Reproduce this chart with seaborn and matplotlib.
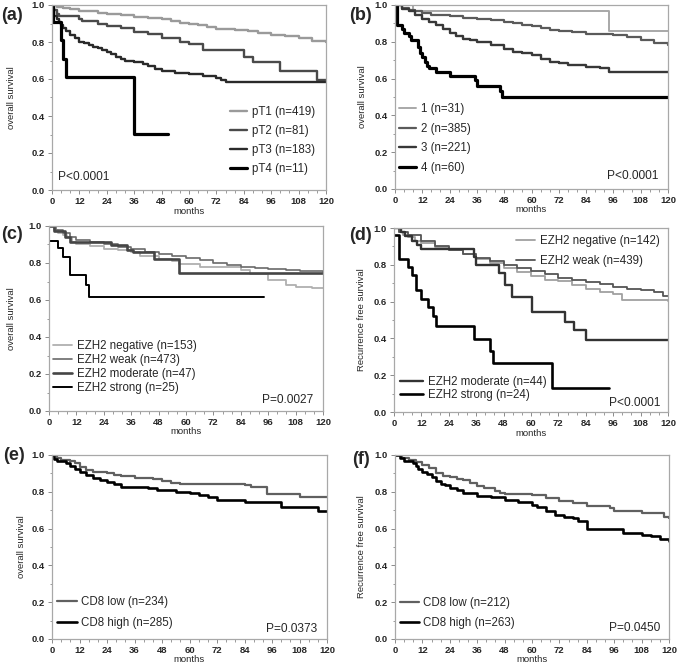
import numpy as np
import pandas as pd
import matplotlib
matplotlib.use("Agg")
import matplotlib.pyplot as plt
import seaborn as sns
from matplotlib.ticker import MultipleLocator, FormatStrFormatter
from matplotlib.lines import Line2D

sns.set_style("ticks")
plt.rcParams['font.family'] = ['Liberation Sans', 'DejaVu Sans']

# ---------------- data (step points: time in months, survival after step) -------------
# (a) pT stage, overall survival
a_labels = ["pT1 (n=419)", "pT2 (n=81)", "pT3 (n=183)", "pT4 (n=11)"]
a_t_pT1 = [0, 2, 5, 8, 12, 16, 20, 24, 30, 36, 42, 48, 52, 56, 60, 64, 68, 72, 80, 86, 90, 96, 102, 108, 114, 120]
a_s_pT1 = [1.0, 0.99, 0.985, 0.978, 0.97, 0.965, 0.958, 0.952, 0.945, 0.935, 0.93, 0.925, 0.915, 0.905, 0.9, 0.89, 0.88, 0.87, 0.865, 0.86, 0.85, 0.84, 0.83, 0.82, 0.805, 0.80]
a_t_pT2 = [0, 1, 2, 3, 12, 13, 20, 24, 30, 36, 42, 48, 56, 60, 66, 84, 88, 100, 116, 120]
a_s_pT2 = [1.0, 0.975, 0.95, 0.94, 0.925, 0.915, 0.90, 0.885, 0.875, 0.855, 0.845, 0.823, 0.80, 0.79, 0.757, 0.72, 0.69, 0.645, 0.595, 0.59]
a_t_pT3 = [0, 0.5, 1, 2, 3, 4, 5, 6, 8, 10, 12, 14, 16, 18, 20, 22, 24, 26, 28, 30, 32, 36, 40, 42, 45, 48, 54, 60, 66, 72, 74, 76, 120]
a_s_pT3 = [1.0, 0.97, 0.94, 0.925, 0.91, 0.89, 0.875, 0.86, 0.84, 0.82, 0.80, 0.795, 0.785, 0.775, 0.765, 0.755, 0.745, 0.735, 0.72, 0.71, 0.70, 0.69, 0.68, 0.67, 0.655, 0.645, 0.635, 0.625, 0.615, 0.605, 0.595, 0.585, 0.585]
a_t_pT4 = [0, 0.5, 4, 5, 6, 36, 51]
a_s_pT4 = [1.0, 0.91, 0.81, 0.71, 0.61, 0.305, 0.305]

# (b) groups 1-4, overall survival
b_labels = ["1 (n=31)", "2 (n=385)", "3 (n=221)", "4 (n=60)"]
b_t_1 = [0, 8, 94, 120]
b_s_1 = [1.0, 0.968, 0.86, 0.86]
b_t_2 = [0, 3, 6, 9, 12, 16, 20, 24, 30, 36, 42, 48, 52, 56, 60, 64, 68, 72, 78, 84, 90, 96, 102, 108, 114, 120]
b_s_2 = [1.0, 0.985, 0.975, 0.965, 0.955, 0.948, 0.943, 0.94, 0.932, 0.925, 0.918, 0.91, 0.9, 0.893, 0.886, 0.875, 0.865, 0.86, 0.853, 0.845, 0.84, 0.835, 0.825, 0.81, 0.795, 0.783]
b_t_3 = [0, 3, 6, 9, 12, 15, 18, 21, 24, 27, 30, 33, 36, 42, 48, 52, 56, 60, 64, 68, 72, 76, 84, 90, 94, 120]
b_s_3 = [1.0, 0.98, 0.965, 0.945, 0.925, 0.91, 0.89, 0.87, 0.85, 0.83, 0.815, 0.808, 0.80, 0.78, 0.76, 0.745, 0.74, 0.73, 0.705, 0.69, 0.685, 0.672, 0.665, 0.655, 0.638, 0.638]
b_t_4 = [0, 1, 3, 4, 6, 7, 10, 11, 12, 13, 14, 15, 18, 24, 35, 36, 46, 47, 120]
b_s_4 = [1.0, 0.89, 0.87, 0.85, 0.83, 0.81, 0.77, 0.74, 0.72, 0.69, 0.67, 0.655, 0.635, 0.615, 0.59, 0.56, 0.53, 0.50, 0.50]

# (c) EZH2, overall survival
c_labels = ["EZH2 negative (n=153)", "EZH2 weak (n=473)", "EZH2 moderate (n=47)", "EZH2 strong (n=25)"]
c_t_neg = [0, 2, 4, 6, 8, 10, 12, 18, 24, 30, 36, 40, 48, 54, 57, 66, 84, 88, 96, 104, 108, 115, 120]
c_s_neg = [1.0, 0.98, 0.96, 0.95, 0.94, 0.915, 0.90, 0.89, 0.877, 0.87, 0.86, 0.84, 0.82, 0.81, 0.795, 0.78, 0.76, 0.74, 0.71, 0.68, 0.672, 0.665, 0.665]
c_t_weak = [0, 3, 6, 9, 12, 18, 24, 30, 36, 42, 48, 54, 60, 66, 72, 78, 84, 90, 96, 104, 110, 120]
c_s_weak = [1.0, 0.98, 0.96, 0.94, 0.925, 0.912, 0.90, 0.885, 0.873, 0.862, 0.85, 0.84, 0.826, 0.814, 0.80, 0.79, 0.78, 0.772, 0.765, 0.76, 0.755, 0.75]
c_t_mod = [0, 2, 7, 9, 27, 34, 37, 46, 57, 120]
c_s_mod = [1.0, 0.975, 0.94, 0.915, 0.897, 0.87, 0.86, 0.82, 0.745, 0.745]
c_t_str = [0, 4, 6, 9, 16, 17.5, 94]
c_s_str = [0.92, 0.88, 0.83, 0.735, 0.68, 0.615, 0.615]

# (d) EZH2, recurrence free survival
d_labels = ["EZH2 negative (n=142)", "EZH2 weak (n=439)", "EZH2 moderate (n=44)", "EZH2 strong (n=24)"]
d_t_neg = [0, 2, 4, 6, 9, 12, 18, 24, 30, 36, 42, 48, 54, 60, 66, 72, 78, 84, 90, 96, 100, 120]
d_s_neg = [1.0, 0.98, 0.96, 0.95, 0.93, 0.92, 0.895, 0.88, 0.86, 0.83, 0.81, 0.78, 0.76, 0.74, 0.72, 0.71, 0.69, 0.67, 0.65, 0.64, 0.61, 0.605]
d_t_weak = [0, 2, 6, 12, 18, 24, 30, 36, 42, 48, 54, 60, 66, 72, 78, 84, 90, 96, 102, 108, 114, 118, 120]
d_s_weak = [1.0, 0.98, 0.96, 0.93, 0.90, 0.88, 0.86, 0.838, 0.82, 0.80, 0.782, 0.765, 0.748, 0.73, 0.715, 0.705, 0.695, 0.68, 0.67, 0.665, 0.65, 0.63, 0.63]
d_t_mod = [0, 3, 5, 8, 10, 12, 35, 36, 46, 48.5, 51.5, 60.5, 75, 79, 84, 120]
d_s_mod = [1.0, 0.977, 0.955, 0.93, 0.91, 0.886, 0.84, 0.80, 0.755, 0.69, 0.625, 0.545, 0.49, 0.445, 0.39, 0.39]
d_t_str = [0, 2, 6, 8, 9.5, 12, 15, 17, 18.5, 35, 42, 43.5, 69, 94]
d_s_str = [0.96, 0.83, 0.79, 0.745, 0.665, 0.615, 0.57, 0.52, 0.465, 0.395, 0.33, 0.265, 0.13, 0.13]

# (e) CD8, overall survival
e_labels = ["CD8 low (n=234)", "CD8 high (n=285)"]
e_t_low = [0, 2, 4, 8, 10, 12, 15, 18, 24, 27, 30, 36, 44, 48, 52, 56, 60, 84, 87, 94, 108, 120]
e_s_low = [1.0, 0.985, 0.975, 0.965, 0.955, 0.937, 0.92, 0.909, 0.90, 0.89, 0.885, 0.873, 0.868, 0.858, 0.85, 0.845, 0.84, 0.835, 0.824, 0.79, 0.77, 0.77]
e_t_high = [0, 1, 2, 6, 8, 10, 12, 15, 18, 21, 24, 27, 30, 36, 42, 46, 54, 60, 64, 68, 72, 84, 100, 116, 120]
e_s_high = [1.0, 0.98, 0.965, 0.955, 0.94, 0.922, 0.91, 0.89, 0.875, 0.865, 0.853, 0.84, 0.828, 0.825, 0.82, 0.81, 0.80, 0.795, 0.785, 0.77, 0.757, 0.745, 0.716, 0.697, 0.695]

# (f) CD8, recurrence free survival
f_labels = ["CD8 low (n=212)", "CD8 high (n=263)"]
f_t_low = [0, 3, 6, 9, 12, 15, 18, 21, 24, 27, 30, 33, 36, 39, 44, 46, 48, 60, 66, 72, 78, 84, 94, 96, 108, 118, 120]
f_s_low = [1.0, 0.985, 0.975, 0.96, 0.946, 0.93, 0.90, 0.887, 0.882, 0.872, 0.864, 0.85, 0.833, 0.822, 0.805, 0.795, 0.786, 0.78, 0.768, 0.75, 0.74, 0.725, 0.71, 0.697, 0.683, 0.665, 0.655]
f_t_high = [0, 2, 4, 8, 9, 10, 12, 14, 16, 18, 20, 22, 24, 27, 30, 36, 42, 48, 54, 60, 62, 66, 70, 74, 78, 80, 84, 96, 100, 108, 112, 116, 120]
f_s_high = [1.0, 0.985, 0.97, 0.955, 0.94, 0.922, 0.91, 0.895, 0.88, 0.86, 0.845, 0.835, 0.82, 0.81, 0.795, 0.778, 0.77, 0.755, 0.745, 0.73, 0.715, 0.697, 0.675, 0.665, 0.655, 0.64, 0.60, 0.60, 0.575, 0.565, 0.56, 0.545, 0.53]

x_ticks = [0, 12, 24, 36, 48, 60, 72, 84, 96, 108, 120]
y_ticks = [0.0, 0.2, 0.4, 0.6, 0.8, 1.0]

# ---------------- figure ----------------
W, H = 677, 665
fig = plt.figure(figsize=(W / 100, H / 100), dpi=100)

def make_ax(l, r, t, b):
    return fig.add_axes([l / W, 1 - b / H, (r - l) / W, (b - t) / H])

FS = 8.3

def km(ax, t, s, color, lw):
    df = pd.DataFrame({"months": t, "surv": s})
    sns.lineplot(data=df, x="months", y="surv", ax=ax, color=color, linewidth=lw,
                 drawstyle="steps-post", estimator=None, sort=False, legend=False)

def style(ax, ylabel, ylab_px, box):
    l, r, t, b = box
    ax.set_xlim(0, 120)
    ax.set_ylim(0, 1)
    ax.set_xticks(x_ticks)
    ax.set_yticks(y_ticks)
    ax.yaxis.set_major_formatter(FormatStrFormatter("%.1f"))
    ax.xaxis.set_minor_locator(MultipleLocator(4))
    ax.yaxis.set_minor_locator(MultipleLocator(0.1))
    ax.tick_params(which="major", length=3, width=0.7, color="#8a8a8a", labelsize=6.8, pad=2)
    ax.tick_params(which="minor", length=1.8, width=0.6, color="#8a8a8a")
    for lab in ax.get_xticklabels() + ax.get_yticklabels():
        lab.set_fontweight("bold")
    for sp in ax.spines.values():
        sp.set_visible(True)
        sp.set_color("#a8a8a8")
        sp.set_linewidth(0.9)
    ax.set_xlabel("months", fontsize=6.8)
    ax.xaxis.label.set_va("center")
    ax.xaxis.set_label_coords(0.5, -21 / (b - t))
    ax.set_ylabel(ylabel, fontsize=6.8)
    ax.yaxis.label.set_va("center")
    ax.yaxis.set_label_coords((ylab_px - l) / (r - l), 0.5)

def legend(ax, colors, widths, labels, x, y, hl, htp, ls):
    handles = [Line2D([], [], color=c, lw=w) for c, w in zip(colors, widths)]
    leg = ax.legend(handles, labels, loc="upper left", bbox_to_anchor=(x, y), frameon=False,
                    borderpad=0, borderaxespad=0, handlelength=hl, handletextpad=htp,
                    labelspacing=ls, fontsize=FS)
    return leg

def ptext(ax, s, x, y, ha):
    ax.text(x, y, s, transform=ax.transAxes, ha=ha, va="center", fontsize=FS + 0.3)

# (a)
box = (52, 326, 5, 190)
ax = make_ax(*box)
cols = ["#9a9a9a", "#4a4a4a", "#2a2a2a", "#000000"]
lws = [1.7, 1.7, 1.7, 2.3]
for t, s, c, w in zip([a_t_pT1, a_t_pT2, a_t_pT3, a_t_pT4], [a_s_pT1, a_s_pT2, a_s_pT3, a_s_pT4], cols, lws):
    km(ax, t, s, c, w)
style(ax, "overall survival", 12, box)
legend(ax, cols, lws, a_labels, (230 - 52) / 274, (190 - 106) / 185, 1.5, 0.4, 0.62)
ptext(ax, "P<0.0001", (58 - 52) / 274, (190 - 177) / 185, "left")

# (b)
box = (395, 668, 5, 189)
ax = make_ax(*box)
cols = ["#a8a8a8", "#5a5a5a", "#383838", "#000000"]
lws = [1.4, 1.6, 1.7, 2.3]
for t, s, c, w in zip([b_t_1, b_t_2, b_t_3, b_t_4], [b_s_1, b_s_2, b_s_3, b_s_4], cols, lws):
    km(ax, t, s, c, w)
style(ax, "overall survival", 363, box)
legend(ax, cols, lws, b_labels, (399 - 395) / 273, (189 - 103) / 184, 1.5, 0.4, 0.66)
ptext(ax, "P<0.0001", (658 - 395) / 273, (189 - 176) / 184, "right")

# (c)
box = (49, 323, 226, 411)
ax = make_ax(*box)
cols = ["#b0b0b0", "#6a6a6a", "#454545", "#000000"]
lws = [1.3, 1.2, 1.9, 1.4]
for t, s, c, w in zip([c_t_neg, c_t_weak, c_t_mod, c_t_str], [c_s_neg, c_s_weak, c_s_mod, c_s_str], cols, lws):
    km(ax, t, s, c, w)
style(ax, "overall survival", 12, box)
legend(ax, cols, lws, c_labels, (53 - 49) / 274, (411 - 340) / 185, 1.65, 0.45, 0.17)
ptext(ax, "P=0.0027", (313 - 49) / 274, (411 - 400) / 185, "right")

# (d)
box = (394, 668, 228, 412)
ax = make_ax(*box)
cols = ["#a0a0a0", "#555555", "#333333", "#000000"]
lws = [1.3, 1.3, 1.7, 1.9]
for t, s, c, w in zip([d_t_neg, d_t_weak, d_t_mod, d_t_str], [d_s_neg, d_s_weak, d_s_mod, d_s_str], cols, lws):
    km(ax, t, s, c, w)
style(ax, "Recurrence free survival", 361, box)
leg1 = legend(ax, cols[:2], lws[:2], d_labels[:2], (516 - 394) / 274, (412 - 235) / 184, 1.65, 0.45, 0.66)
ax.add_artist(leg1)
legend(ax, cols[2:], lws[2:], d_labels[2:], (400 - 394) / 274, (412 - 376) / 184, 2.0, 0.45, 0.13)
ptext(ax, "P<0.0001", (660 - 394) / 274, (412 - 403) / 184, "right")

# (e)
box = (52, 327, 455, 639)
ax = make_ax(*box)
cols = ["#606060", "#000000"]
lws = [1.6, 1.9]
for t, s, c, w in zip([e_t_low, e_t_high], [e_s_low, e_s_high], cols, lws):
    km(ax, t, s, c, w)
style(ax, "overall survival", 22, box)
legend(ax, cols, lws, e_labels, (57 - 52) / 275, (639 - 596) / 184, 1.75, 0.35, 0.82)
ptext(ax, "P=0.0373", (317 - 52) / 275, (639 - 629) / 184, "right")

# (f)
box = (395, 669, 455, 639)
ax = make_ax(*box)
for t, s, c, w in zip([f_t_low, f_t_high], [f_s_low, f_s_high], cols, lws):
    km(ax, t, s, c, w)
style(ax, "Recurrence free survival", 362, box)
legend(ax, cols, lws, f_labels, (400 - 395) / 274, (639 - 597) / 184, 1.65, 0.35, 0.66)
ptext(ax, "P=0.0450", (660 - 395) / 274, (639 - 628) / 184, "right")

# panel letters
for lab, x, y in [("(a)", 12, 15), ("(b)", 360, 15), ("(c)", 12, 235),
                  ("(d)", 360, 236), ("(e)", 14, 455), ("(f)", 361, 460)]:
    fig.text(x / W, 1 - y / H, lab, ha="center", va="center", fontsize=13, fontweight="bold")

fig.savefig("out.png", dpi=100, facecolor="white")
